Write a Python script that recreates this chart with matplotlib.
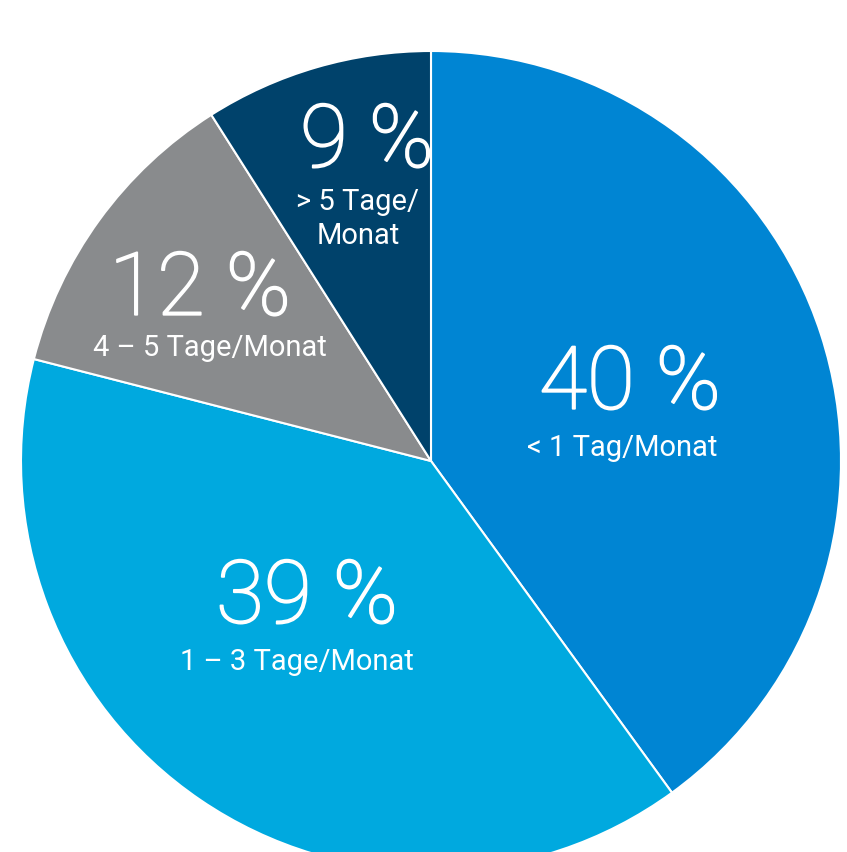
import matplotlib
matplotlib.use('Agg')
import matplotlib.pyplot as plt
import matplotlib.patheffects as pe

# Anteil nach Häufigkeit
shares = [40, 39, 12, 9]
pct_labels = ['40 %', '39 %', '12 %', '9 %']
cat_labels = ['< 1 Tag/Monat', '1 – 3 Tage/Monat', '4 – 5 Tage/Monat', '> 5 Tage/\nMonat']
colors = ['#0085d3', '#00a9df', '#898b8d', '#00426b']

plt.rcParams['font.family'] = ['Roboto', 'DejaVu Sans']

fig = plt.figure(figsize=(8.47, 8.53), dpi=100)
ax = fig.add_axes([0, 0, 1, 1])

wedges, _ = ax.pie(shares, colors=colors, startangle=90, counterclock=False,
                   center=(431, 391), radius=410, frame=True,
                   wedgeprops=dict(edgecolor='white', linewidth=1.5))
ax.set_xlim(0, 847)
ax.set_ylim(0, 853)
ax.axis('off')

# label placement (pixel coords, y up)
pct_pos = [(630, 467), (307, 253), (200, 561), (367, 709)]
cat_pos = [(622, 405), (297, 191), (210, 505), (358, 634)]

for i in range(len(shares)):
    t = ax.text(*pct_pos[i], pct_labels[i], color='white', fontsize=63,
                fontweight='light', ha='center', va='center',
                path_effects=[pe.withStroke(linewidth=1.3, foreground='white')])
    t.set_clip_path(wedges[i])
    ax.text(*cat_pos[i], cat_labels[i], color='white', fontsize=21,
            ha='center', va='center', linespacing=1.25)

fig.savefig('out.png', dpi=100)
